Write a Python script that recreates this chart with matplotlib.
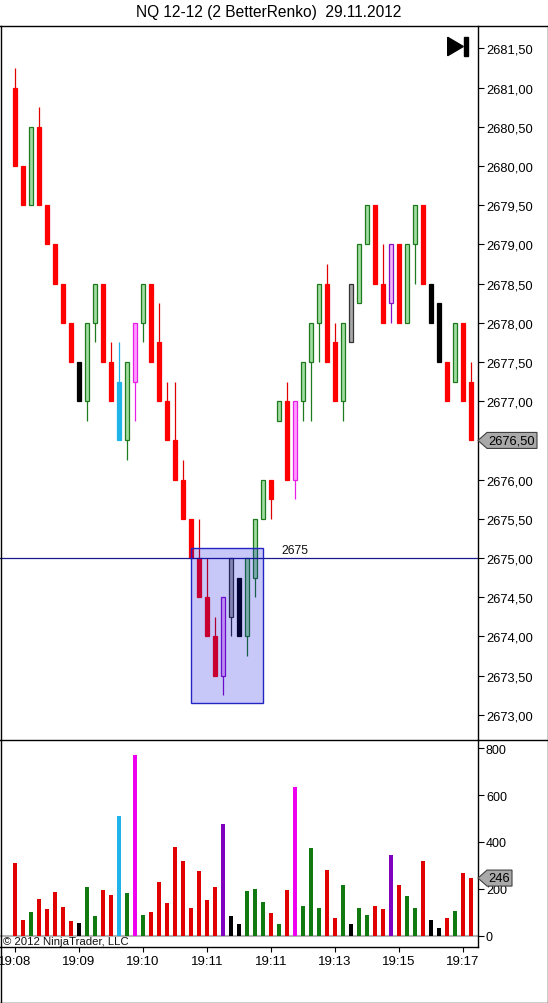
import matplotlib
matplotlib.use("Agg")
import matplotlib.pyplot as plt
import matplotlib.transforms as mtransforms
from matplotlib.patches import Polygon, Rectangle
from matplotlib.lines import Line2D
from matplotlib.ticker import FixedLocator, FuncFormatter

plt.rcParams['font.family'] = ['Liberation Sans', 'DejaVu Sans']

# ---------------- data ----------------
opens = [2681.0, 2680.0, 2679.5, 2680.5, 2679.5, 2679.0, 2678.5, 2678.0, 2677.5, 2677.0,
         2678.0, 2678.5, 2677.5, 2677.25, 2676.5, 2677.25, 2678.0, 2678.5, 2677.75, 2677.0,
         2676.5, 2676.0, 2675.5, 2675.0, 2674.5, 2674.0, 2673.5, 2674.25, 2674.75, 2674.0,
         2674.75, 2675.5, 2676.0, 2676.75, 2677.0, 2676.0, 2677.0, 2677.5, 2678.0, 2678.5,
         2677.75, 2677.0, 2677.75, 2678.25, 2679.0, 2679.5, 2678.5, 2678.25, 2679.0, 2678.0,
         2679.0, 2679.5, 2678.5, 2678.25, 2677.5, 2677.25, 2678.0, 2677.25]
closes = [2680.0, 2679.5, 2680.5, 2679.5, 2679.0, 2678.5, 2678.0, 2677.5, 2677.0, 2678.0,
          2678.5, 2677.5, 2677.0, 2676.5, 2677.5, 2678.0, 2678.5, 2677.5, 2677.0, 2676.5,
          2676.0, 2675.5, 2675.0, 2674.5, 2674.0, 2673.5, 2674.5, 2675.0, 2674.0, 2675.0,
          2675.5, 2676.0, 2675.75, 2677.0, 2676.0, 2677.0, 2677.5, 2678.0, 2678.5, 2677.5,
          2677.0, 2678.0, 2678.5, 2679.0, 2679.5, 2678.5, 2678.0, 2679.0, 2678.0, 2679.0,
          2679.5, 2678.5, 2678.0, 2677.5, 2677.0, 2678.0, 2677.0, 2676.5]
highs = [2681.25, 2680.0, 2680.5, 2680.75, 2679.5, 2679.0, 2678.5, 2678.0, 2677.5, 2678.0,
         2678.5, 2678.5, 2677.75, 2677.75, 2677.5, 2678.0, 2678.5, 2678.5, 2678.25, 2677.25,
         2677.25, 2676.25, 2675.5, 2675.5, 2675.0, 2674.25, 2674.5, 2675.0, 2674.75, 2675.0,
         2675.5, 2676.0, 2676.0, 2677.0, 2677.25, 2677.0, 2677.5, 2678.0, 2678.5, 2678.75,
         2678.0, 2678.0, 2678.5, 2679.0, 2679.5, 2679.5, 2679.0, 2679.0, 2679.0, 2679.0,
         2679.5, 2679.5, 2678.5, 2678.25, 2677.5, 2678.0, 2678.0, 2677.5]
lows = [2680.0, 2679.5, 2679.5, 2679.5, 2679.0, 2678.5, 2678.0, 2677.5, 2677.0, 2676.75,
        2677.75, 2677.5, 2677.0, 2676.5, 2676.25, 2676.75, 2677.75, 2677.5, 2677.0, 2676.5,
        2676.0, 2675.5, 2675.0, 2674.5, 2674.0, 2673.5, 2673.25, 2674.0, 2674.0, 2673.75,
        2674.5, 2675.5, 2675.5, 2676.75, 2676.0, 2675.75, 2676.75, 2676.75, 2677.5, 2677.5,
        2677.0, 2676.75, 2677.75, 2678.25, 2679.0, 2678.5, 2678.0, 2678.0, 2678.0, 2678.0,
        2678.5, 2678.5, 2678.0, 2677.5, 2677.0, 2677.25, 2677.0, 2676.5]
# bar categories: d=down, u=up, k=black, g=grey, c=cyan, m=magenta, p=purple
kinds = ['d', 'd', 'u', 'd', 'd', 'd', 'd', 'd', 'k', 'u',
         'u', 'd', 'd', 'c', 'u', 'm', 'u', 'd', 'd', 'd',
         'd', 'd', 'd', 'd', 'd', 'd', 'p', 'g', 'k', 'u',
         'u', 'u', 'd', 'u', 'd', 'm', 'u', 'u', 'u', 'd',
         'd', 'u', 'g', 'u', 'u', 'd', 'd', 'p', 'd', 'u',
         'u', 'd', 'k', 'k', 'd', 'u', 'd', 'd']
volumes = [310, 67, 101, 157, 114, 186, 122, 63, 54, 208,
           84, 195, 174, 511, 183, 772, 88, 101, 229, 140,
           379, 319, 118, 276, 152, 208, 477, 84, 50, 191,
           200, 144, 97, 50, 195, 635, 127, 375, 118, 280,
           76, 216, 50, 118, 88, 127, 114, 345, 216, 170,
           118, 319, 67, 33, 76, 106, 268, 246]
time_tick_idx = [0, 8, 16, 24, 32, 40, 48, 56]
time_labels = ["19:08", "19:09", "19:10", "19:11", "19:11", "19:13", "19:15", "19:17"]
price_ticks = [2673.0 + 0.5 * k for k in range(18)]
volume_ticks = [0, 200, 400, 600, 800]
hline_level = 2675.0
box_x = [22, 31.04]
box_y = [2673.15, 2675.125]
title = "NQ 12-12 (2 BetterRenko)  29.11.2012"

# ---------------- styles ----------------
FILL = {'d': '#ff0000', 'u': '#9fdc9f', 'k': '#000000', 'g': '#a8a8a8',
        'c': '#1eb4ea', 'm': '#ff9cff', 'p': '#f3b6f8'}
EDGE = {'d': '#ff0000', 'u': '#1f7a1f', 'k': '#000000', 'g': '#333333',
        'c': '#1eb4ea', 'm': '#e81ee8', 'p': '#8a10c8'}
WICK = {'d': '#e00000', 'u': '#1f7a1f', 'k': '#000000', 'g': '#333333',
        'c': '#1eb4ea', 'm': '#e81ee8', 'p': '#8a10c8'}
VOLC = {'d': '#e00000', 'u': '#107a10', 'k': '#000000', 'g': '#000000',
        'c': '#1eb4ea', 'm': '#ee00ee', 'p': '#8000c0'}

W, H = 548, 1004
fig = plt.figure(figsize=(W / 100, H / 100), dpi=100)
fig.patch.set_facecolor('white')

def fx(x):
    return x / W

def fy(y):
    return 1 - y / H

x_right = 478
top, mid, bot = 27, 741, 948
ax = fig.add_axes([0, fy(mid), fx(x_right), fy(top) - fy(mid)])
axv = fig.add_axes([0, fy(bot), fx(x_right), fy(mid) - fy(bot)])

n = len(opens)
xs = list(range(n))
xlim = (-15 / 8, (x_right - 15) / 8)

# price panel
wc = [WICK[k] for k in kinds]
ax.vlines(xs, lows, highs, colors=wc, linewidth=0.9, zorder=2)
bottoms = [min(o, c) for o, c in zip(opens, closes)]
heights = [abs(c - o) for o, c in zip(opens, closes)]
ax.bar(xs, heights, bottom=bottoms, width=0.58,
       color=[FILL[k] for k in kinds], edgecolor=[EDGE[k] for k in kinds],
       linewidth=0.9, zorder=3)
ax.axhline(hline_level, color='#1a1a8c', linewidth=0.9, zorder=4)
ax.text(33.25, hline_level + 0.02, f"{hline_level:.0f}", fontsize=8.8,
        ha='left', va='bottom', color='#111111', zorder=6)
ax.add_patch(Rectangle((box_x[0], box_y[0]), box_x[1] - box_x[0], box_y[1] - box_y[0],
                       facecolor=(0.0, 0.0, 0.88, 0.22), edgecolor='#2424c4',
                       linewidth=1.0, zorder=5))
ax.set_xlim(*xlim)
ax.set_ylim(2672.679, 2681.786)
ax.yaxis.tick_right()
ax.yaxis.set_major_locator(FixedLocator(price_ticks))
last_price = closes[-1]
ax.yaxis.set_major_formatter(FuncFormatter(
    lambda v, p: "" if abs(v - last_price) < 1e-6 else f"{v:.2f}".replace('.', ',')))
ax.tick_params(axis='y', direction='out', length=4.5, width=0.8, pad=1.2, labelsize=9.3)
ax.set_xticks([])
for s in ['top', 'left', 'bottom']:
    ax.spines[s].set_visible(False)
ax.spines['right'].set_linewidth(1.0)

# volume panel
axv.bar(xs, volumes, width=0.38, color=[VOLC[k] for k in kinds], linewidth=0, zorder=3)
axv.axhline(0, color='#b4b4b4', linewidth=1.5, zorder=2)
axv.set_xlim(*xlim)
axv.set_ylim(-48, 835)
axv.yaxis.tick_right()
axv.yaxis.set_major_locator(FixedLocator(volume_ticks))
axv.tick_params(axis='y', direction='out', length=4.5, width=0.8, pad=1.2, labelsize=9)
axv.set_xticks(time_tick_idx)
axv.set_xticklabels(time_labels)
axv.tick_params(axis='x', direction='out', length=3.6, width=0.8, pad=2.0, labelsize=9.5)
for s in ['top', 'left']:
    axv.spines[s].set_visible(False)
axv.spines['right'].set_linewidth(1.0)
axv.spines['bottom'].set_linewidth(1.0)

# figure-level decorations (pixel coordinates)
ident = mtransforms.IdentityTransform()

def P(x, y):
    return (x, H - y)

for (x0, y0, x1, y1) in [(0, top, W, top), (0, mid, W, mid), (0.5, top, 0.5, H),
                         (W - 0.5, top, W - 0.5, H), (0, H - 0.5, W, H - 0.5)]:
    fig.add_artist(Line2D([P(x0, y0)[0], P(x1, y1)[0]], [P(x0, y0)[1], P(x1, y1)[1]],
                          color='black', linewidth=1.0, transform=ident))

fig.text(fx(269), fy(13), title, ha='center', va='center', fontsize=11.2)
fig.text(fx(3), fy(942), "\u00a9 2012 NinjaTrader, LLC", ha='left', va='center',
         fontsize=8.2, color='#111111')

# play/end icon
fig.add_artist(Polygon([P(447.7, 38.3), P(447.7, 56.7), P(463.3, 47.5)], closed=True,
                       facecolor='black', edgecolor='black', transform=ident))
fig.add_artist(Polygon([P(464.3, 38.3), P(467.7, 38.3), P(467.7, 56.7), P(464.3, 56.7)],
                       closed=True, facecolor='black', edgecolor='black', transform=ident))

# last value markers
def marker(axis, value, label, x_end, fs):
    yd = axis.transData.transform((0, value))[1]
    xt = x_right
    hh = 8
    verts = [(xt, yd), (xt + 9, yd + hh), (x_end, yd + hh), (x_end, yd - hh), (xt + 9, yd - hh)]
    fig.add_artist(Polygon(verts, closed=True, facecolor='#a9a9a9', edgecolor='#404040',
                           linewidth=0.8, transform=ident, zorder=10))
    fig.text(((xt + 8 + x_end) / 2) / W, yd / H, label, ha='center', va='center',
             fontsize=fs, zorder=11)

marker(ax, closes[-1], f"{closes[-1]:.2f}".replace('.', ','), 537, 9.3)
marker(axv, volumes[-1], f"{volumes[-1]}", 512, 9.3)

fig.savefig("out.png", dpi=100)
